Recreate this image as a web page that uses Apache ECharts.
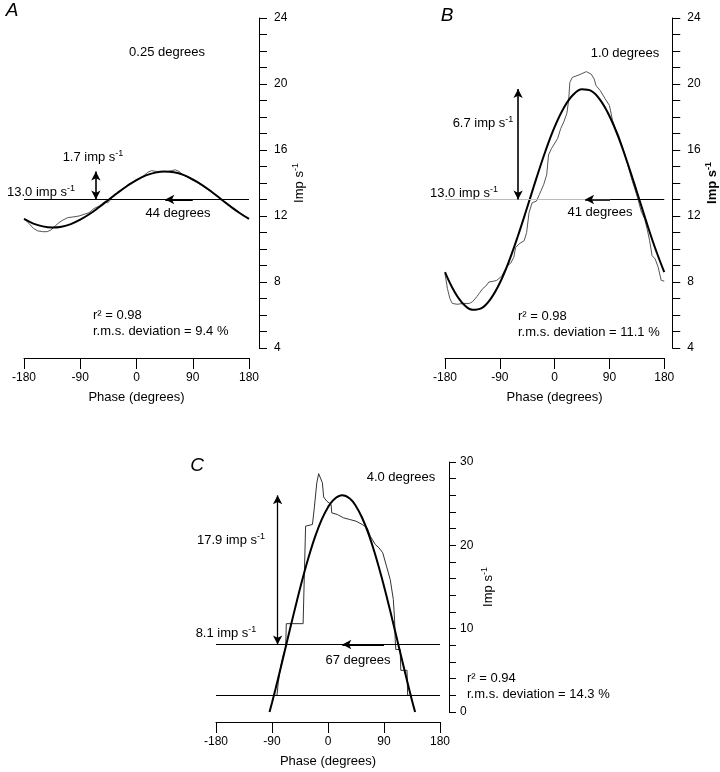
<!DOCTYPE html>
<html><head><meta charset="utf-8">
<script src="https://cdn.jsdelivr.net/npm/echarts@6/dist/echarts.min.js"></script>
<style>html,body{margin:0;padding:0;background:#fff}#c{width:720px;height:772px}</style>
</head><body><div id="c"></div>
<script>
// ---------- data ----------
const xTicks = [-180, -90, 0, 90, 180];
const fitPhase = [-180,-165,-150,-135,-120,-105,-90,-75,-60,-45,-30,-15,0,15,30,45,60,75,90,105,120,135,150,165,180];
const fitA = [11.82,11.54,11.37,11.30,11.35,11.51,11.78,12.12,12.53,12.97,13.41,13.82,14.18,14.46,14.63,14.70,14.65,14.49,14.22,13.88,13.47,13.03,12.59,12.18,11.82];
const fitB = [8.60,7.45,6.67,6.32,6.42,6.98,7.94,9.25,10.82,12.53,14.28,15.94,17.40,18.55,19.33,19.68,19.58,19.02,18.06,16.75,15.18,13.47,11.72,10.06,8.60];
const fitPhaseC = [-94,-90,-80,-70,-60,-50,-40,-30,-20,-10,0,10,23,35,45,55,65,75,85,95,105,115,125,135,140];
const fitC = [0,1.11,4.07,7.16,10.28,13.33,16.23,18.87,21.19,23.11,24.58,25.54,26.0,25.61,24.70,23.28,21.40,19.12,16.50,13.63,10.59,7.48,4.38,1.39,0];

const rawPhaseA = [-180,-172,-165,-158,-150,-143,-137,-130,-124,-118,-110,-100,-92,-84,-76,-68,-60,-55,-50,-46,-42,-36,-30,-24,-18,-12,-6,0,6,12,18,24,32,40,48,56,62,68,74,80,88,96,104,112,120,128,134,140,146,152,160,168,174,180];
const rawA = [11.85,11.55,11.25,11.1,11.05,11.05,11.15,11.4,11.6,11.75,11.9,11.95,12.0,12.1,12.2,12.45,12.6,12.75,12.9,12.8,12.95,13.3,13.4,13.6,13.75,13.95,14.05,14.2,14.3,14.45,14.65,14.75,14.7,14.7,14.68,14.75,14.8,14.7,14.5,14.4,14.2,14.05,13.85,13.65,13.45,13.25,13.0,12.9,12.75,12.55,12.35,12.1,11.95,11.85];

const rawPhaseB = [-180,-176,-172,-168,-160,-150,-140,-135,-128,-124,-118,-113,-108,-100,-95,-87,-82,-77,-72,-67,-64,-57,-50,-46,-42,-37,-30,-25,-18,-13,-10,-5,5,10,15,20,23,25,29,40,52,60,65,68,75,83,90,95,100,105,113,120,126,132,137,142,148,152,156,160,165,170,175,180];
const rawB = [8.5,7.6,7.0,6.7,6.65,6.7,6.7,6.8,7.1,7.3,7.6,7.75,8.0,8.05,8.1,8.35,8.7,9.0,9.15,9.5,10.1,10.35,10.5,11.0,12.2,12.8,12.9,13.3,13.9,14.5,15.7,16.1,16.7,17.3,17.7,18.2,19.0,20.1,20.4,20.55,20.75,20.6,20.3,19.9,19.6,19.1,18.7,17.8,17.3,16.9,16.0,15.1,14.3,13.6,13.0,12.3,11.8,11.2,10.5,9.6,9.4,8.9,8.1,8.05];

const rawPhaseC = [-87,-82,-80,-76,-72,-68,-67,-40,-38,-36,-25,-22,-18,-15,-12,-9,-7,-2,5,6,15,25,35,45,55,63,68,76,82,88,94,100,105,107,108,109,116,117,127,128,135];
const rawC = [2.0,2.0,3.5,5.5,6.8,7.8,10.6,10.6,16.5,22.3,22.5,24.5,27.5,28.6,28.8,27.5,25.8,25.3,24.9,23.9,23.7,23.3,23.1,22.9,22.5,22.1,21.1,20.1,19.7,19.1,17.5,15.9,13.5,11.1,8.7,7.5,7.5,5.0,5.0,2.0,2.0];

// fitted parameters (mean, modulation amplitude, phase advance)
const meanA = 13.0, ampA = 1.7, phA = 44;
const meanB = 13.0, ampB = 6.7, phB = 41;
const meanC = 8.1, ampC = 17.9, phC = 67;
const baseC = 2.0;

// ---------- chart ----------
const FF = '"Liberation Sans", Arial, Helvetica, sans-serif';
const zip = (xs, ys) => xs.map((x, i) => [x, ys[i]]);
const chart = echarts.init(document.getElementById('c'), null, {renderer: 'canvas'});

function xAx(gi, offset) {
  return {
    type: 'value', gridIndex: gi, min: -180, max: 180, interval: 90, position: 'bottom', offset: offset,
    axisLine: {show: true, onZero: false, lineStyle: {color: '#000', width: 1}},
    axisTick: {show: true, length: 11, lineStyle: {color: '#000'}},
    axisLabel: {margin: 14, color: '#000', fontSize: 12, fontFamily: FF},
    splitLine: {show: false},
    name: 'Phase (degrees)', nameLocation: 'middle', nameGap: 33,
    nameTextStyle: {color: '#000', fontSize: 13, fontFamily: FF}
  };
}
function yAx(gi, offset, min, max, step, labStep, margin, gap, bold, tlen) {
  return {
    type: 'value', gridIndex: gi, position: 'right', offset: offset, min: min, max: max, interval: step,
    axisLine: {show: true, onZero: false, lineStyle: {color: '#000', width: 1}},
    axisTick: {show: true, length: tlen, lineStyle: {color: '#000'}},
    axisLabel: {margin: margin, color: '#000', fontSize: 12, fontFamily: FF,
      formatter: v => (Math.round(v) % labStep === 0 ? String(Math.round(v)) : '')},
    splitLine: {show: false},
    name: '{n|Imp s}{s|-1}', nameLocation: 'middle', nameGap: gap, nameRotate: 90,
    nameTextStyle: {rich: {
      n: {color: '#000', fontSize: 13, fontFamily: FF, fontWeight: bold ? 'bold' : 'normal'},
      s: {color: '#000', fontSize: 9, fontFamily: FF, fontWeight: bold ? 'bold' : 'normal', padding: [0, 0, 7, 0]}
    }}
  };
}
function seg(p1, p2, sym, w, col) {
  return [{coord: p1, symbol: sym[0], lineStyle: {color: col, width: w, type: 'solid'}},
          {coord: p2, symbol: sym[1]}];
}
function txt(x, y, s, align) {
  return {type: 'text', x: x, y: y, silent: true, style: {
    text: s, fill: '#000', font: '13px ' + FF, textAlign: align || 'center', textVerticalAlign: 'middle',
    rich: {sup: {fontSize: 9, fontFamily: FF, fill: '#000', padding: [0, 0, 7, 0]},
           n: {fontSize: 13, fontFamily: FF, fill: '#000'}}
  }};
}
function lbl(x, y, s) {
  return {type: 'text', x: x, y: y, silent: true, style: {text: s, fill: '#000',
    font: 'italic 19px ' + FF, textAlign: 'center', textVerticalAlign: 'middle'}};
}
const ML = (data) => ({silent: true, animation: false, symbolSize: [7, 9], label: {show: false},
  lineStyle: {color: '#000', width: 1, type: 'solid'}, emphasis: {disabled: true}, data: data});

const option = {
  animation: false,
  backgroundColor: '#fff',
  grid: [
    {left: 24, width: 225, top: 18, height: 330},
    {left: 445, width: 225, top: 18, height: 330},
    {left: 216, width: 224, top: 462, height: 250}
  ],
  xAxis: [xAx(0, 10), xAx(1, 10), xAx(2, 10)],
  yAxis: [
    yAx(0, 10, 4, 24, 1, 4, 15, 26, false, 8),
    yAx(1, 8, 4, 24, 1, 4, 15, 30, true, 8),
    yAx(2, 9, 0, 30, 2, 10, 11, 31, false, 7)
  ],
  series: [
    // Panel A
    {type: 'line', xAxisIndex: 0, yAxisIndex: 0, data: zip(rawPhaseA, rawA), showSymbol: false, symbol: 'none',
     lineStyle: {color: '#555', width: 1}, z: 2},
    {type: 'line', xAxisIndex: 0, yAxisIndex: 0, data: zip(fitPhase, fitA), smooth: 0.4, showSymbol: false, symbol: 'none',
     lineStyle: {color: '#000', width: 2}, z: 3,
     markLine: ML([
       seg([-180, meanA], [180, meanA], ['none', 'none'], 1, '#000'),
       seg([90, meanA], [90 - phA, meanA], ['none', 'arrow'], 2, '#000'),
       seg([-65, meanA], [-65, meanA + ampA], ['arrow', 'arrow'], 1.6, '#000')
     ])},
    // Panel B
    {type: 'line', xAxisIndex: 1, yAxisIndex: 1, data: zip(rawPhaseB, rawB), showSymbol: false, symbol: 'none',
     lineStyle: {color: '#555', width: 1}, z: 2},
    {type: 'line', xAxisIndex: 1, yAxisIndex: 1, data: zip(fitPhase, fitB), smooth: 0.4, showSymbol: false, symbol: 'none',
     lineStyle: {color: '#000', width: 2}, z: 3,
     markLine: ML([
       seg([-180, meanB], [91 - phB, meanB], ['none', 'none'], 1, '#bbb'),
       seg([91, meanB], [180, meanB], ['none', 'none'], 1, '#000'),
       seg([91, meanB], [91 - phB, meanB], ['none', 'arrow'], 1.6, '#000'),
       seg([-60, meanB], [-60, meanB + ampB], ['arrow', 'arrow'], 1.6, '#000')
     ])},
    // Panel C
    {type: 'line', xAxisIndex: 2, yAxisIndex: 2, data: zip(rawPhaseC, rawC), showSymbol: false, symbol: 'none',
     lineStyle: {color: '#333', width: 1}, z: 2},
    {type: 'line', xAxisIndex: 2, yAxisIndex: 2, data: zip(fitPhaseC, fitC), smooth: 0.4, showSymbol: false, symbol: 'none',
     lineStyle: {color: '#000', width: 2}, z: 3,
     markLine: ML([
       seg([-180, meanC], [180, meanC], ['none', 'none'], 1, '#000'),
       seg([-180, baseC], [180, baseC], ['none', 'none'], 1, '#000'),
       seg([90, meanC], [90 - phC, meanC], ['none', 'arrow'], 2, '#000'),
       seg([-81, meanC], [-81, meanC + ampC], ['arrow', 'arrow'], 1.3, '#000')
     ])}
  ],
  graphic: [
    lbl(12, 11, 'A'), lbl(447, 16, 'B'), lbl(197, 466, 'C'),
    // A
    txt(167, 52, '0.25 degrees'),
    txt(93, 157, '{n|1.7 imp s}{sup|-1}'),
    txt(41, 192, '{n|13.0 imp s}{sup|-1}'),
    txt(178, 213, '44 degrees'),
    txt(93, 315, 'r² = 0.98', 'left'),
    txt(93, 331, 'r.m.s. deviation = 9.4 %', 'left'),
    // B
    txt(625, 53, '1.0 degrees'),
    txt(483, 123, '{n|6.7 imp s}{sup|-1}'),
    txt(464, 193, '{n|13.0 imp s}{sup|-1}'),
    txt(600, 212, '41 degrees'),
    txt(518, 316, 'r² = 0.98', 'left'),
    txt(518, 332, 'r.m.s. deviation = 11.1 %', 'left'),
    // C
    txt(401, 477, '4.0 degrees'),
    txt(231, 540, '{n|17.9 imp s}{sup|-1}'),
    txt(226, 633, '{n|8.1 imp s}{sup|-1}'),
    txt(358, 660, '67 degrees'),
    txt(467, 678, 'r² = 0.94', 'left'),
    txt(467, 694, 'r.m.s. deviation = 14.3 %', 'left')
  ]
};
chart.setOption(option);
</script>
</body></html>
